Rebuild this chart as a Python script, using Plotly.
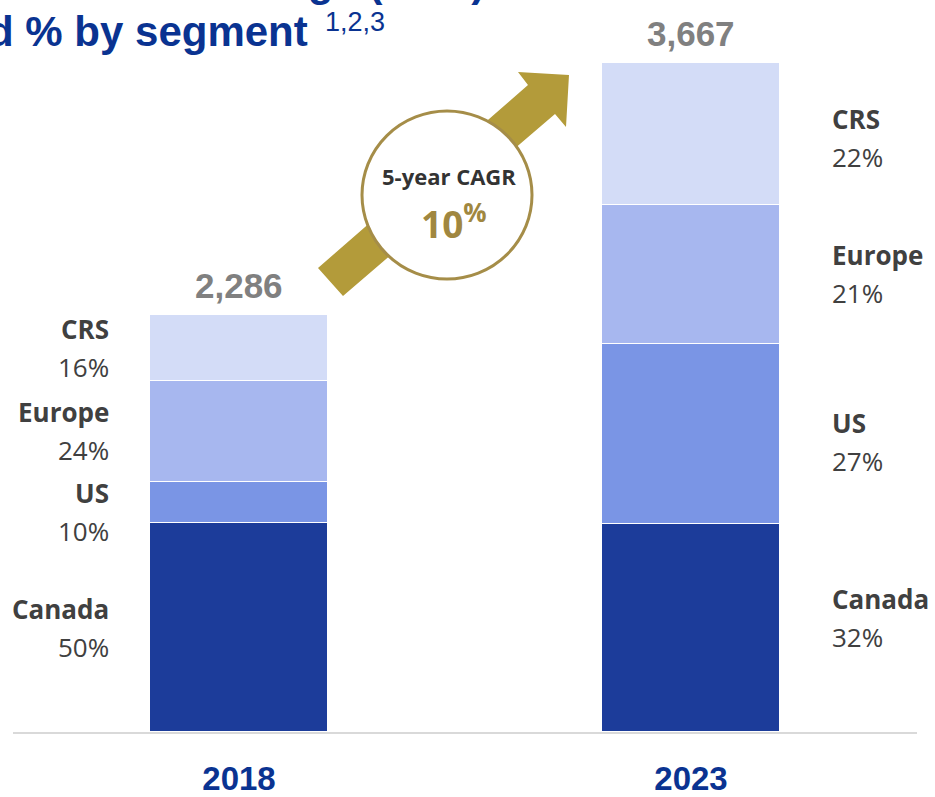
import plotly.graph_objects as go

# ---------------- data ----------------
years = ["2018", "2023"]
segments = ["Canada", "US", "Europe", "CRS"]
canada = [1143, 1139]
us = [229, 986]
europe = [549, 763]
crs = [365, 779]
totals = [2286, 3667]
total_labels = ["2,286", "3,667"]
pct_labels = {
    "Canada": ["50%", "32%"],
    "US": ["10%", "27%"],
    "Europe": ["24%", "21%"],
    "CRS": ["16%", "22%"],
}
cagr_label = "10"
# --------------------------------------

W, H = 935, 797
L, R, T, B = 13, 18, 20, 65
PW, PH = W - L - R, H - T - B
YMAX = 3900

def px(xp):
    return (xp - L) / PW

def py(yp):
    return (T + PH - yp) / PH

colors = {"Canada": "#1c3c9a", "US": "#7a95e5", "Europe": "#a7b7ef", "CRS": "#d3dcf7"}
values = {"Canada": canada, "US": us, "Europe": europe, "CRS": crs}
xpos = [1, 3]
# small vertical nudges (pixels) for label placement
nudge = {(0, "US"): -10, (1, "CRS"): -4, (1, "US"): -8, (1, "Canada"): 10}

fig = go.Figure()
for seg in segments:
    fig.add_trace(go.Bar(
        x=xpos, y=values[seg], name=seg, width=0.79,
        marker=dict(color=colors[seg], line=dict(color="white", width=1.5)),
        hoverinfo="skip", showlegend=False,
    ))

annotations = []
label_color = "#404040"
# segment labels
for i, x in enumerate(xpos):
    base = 0
    for seg in segments:
        v = values[seg][i]
        mid = base + v / 2
        base += v
        if i == 0:
            anchor = "right"
            xx = x - 0.395 - 0.17
        else:
            anchor = "left"
            xx = x + 0.395 + 0.22
        n = nudge.get((i, seg), 0)
        annotations.append(dict(x=xx, y=mid, xref="x", yref="y", text="<b>" + seg + "</b>",
                                showarrow=False, xanchor=anchor, yanchor="middle", yshift=19 + n,
                                font=dict(family="Open Sans", size=26, color=label_color)))
        annotations.append(dict(x=xx, y=mid, xref="x", yref="y", text=pct_labels[seg][i],
                                showarrow=False, xanchor=anchor, yanchor="middle", yshift=-19 + n,
                                font=dict(family="Open Sans", size=26, color=label_color)))
    annotations.append(dict(x=x, y=totals[i], xref="x", yref="y", text="<b>" + total_labels[i] + "</b>",
                            showarrow=False, xanchor="center", yanchor="bottom", yshift=8,
                            font=dict(family="Liberation Sans", size=35, color="#808080")))

# title (clipped at the top-left as in the reference)
title_color = "#0a3391"
annotations.append(dict(x=px(-63), y=py(-19), xref="paper", yref="paper",
                        text="<b>Lifeco base earnings (C$M)</b>", showarrow=False,
                        xanchor="left", yanchor="middle",
                        font=dict(family="Liberation Sans", size=42, color=title_color)))
annotations.append(dict(x=px(-63), y=py(31), xref="paper", yref="paper",
                        text="<b>and % by segment</b>", showarrow=False,
                        xanchor="left", yanchor="middle",
                        font=dict(family="Liberation Sans", size=42, color=title_color)))
annotations.append(dict(x=px(323), y=py(22), xref="paper", yref="paper",
                        text="1,2,3", showarrow=False, xanchor="left", yanchor="middle",
                        font=dict(family="Liberation Sans", size=27, color=title_color)))

# CAGR badge texts
annotations.append(dict(x=px(449), y=py(176), xref="paper", yref="paper",
                        text="<b>5-year CAGR</b>", showarrow=False, xanchor="center", yanchor="middle",
                        font=dict(family="Open Sans", size=22, color="#333333")))
annotations.append(dict(x=px(454), y=py(221), xref="paper", yref="paper",
                        text="<b>" + cagr_label + "<sup>%</sup></b>", showarrow=False,
                        xanchor="center", yanchor="middle",
                        font=dict(family="Open Sans", size=37, color="#a08740")))

# arrow polygon (decoration)
pts = [(318, 268), (528, 85), (518, 72), (569, 75), (566, 127), (555, 114), (343, 296)]
path = "M " + " L ".join(f"{px(a):.5f},{py(b):.5f}" for a, b in pts) + " Z"
shapes = [
    dict(type="path", path=path, xref="paper", yref="paper",
         fillcolor="#b39b3a", line=dict(width=0), layer="above"),
    dict(type="circle", xref="paper", yref="paper",
         x0=px(447 - 85), x1=px(447 + 85), y0=py(195 + 84), y1=py(195 - 84),
         fillcolor="white", line=dict(color="#a58d48", width=3), layer="above"),
]

fig.update_layout(
    width=W, height=H, barmode="stack", bargap=0,
    margin=dict(l=L, r=R, t=T, b=B, autoexpand=False),
    paper_bgcolor="white", plot_bgcolor="white",
    annotations=annotations, shapes=shapes,
    xaxis=dict(range=[0, 4], tickvals=xpos, ticktext=["<b>" + y + "</b>" for y in years],
               showgrid=False, zeroline=False, showline=True, linecolor="#d9d9d9", linewidth=2,
               ticks="", ticklabelstandoff=16, automargin=False,
               tickfont=dict(family="Liberation Sans", size=33, color="#0a3391")),
    yaxis=dict(range=[0, YMAX], visible=False, showgrid=False, zeroline=False, automargin=False),
)

fig.write_html("out.html", config={"displayModeBar": False},
               post_script="document.body.style.margin='0px';document.body.style.overflow='hidden';")
